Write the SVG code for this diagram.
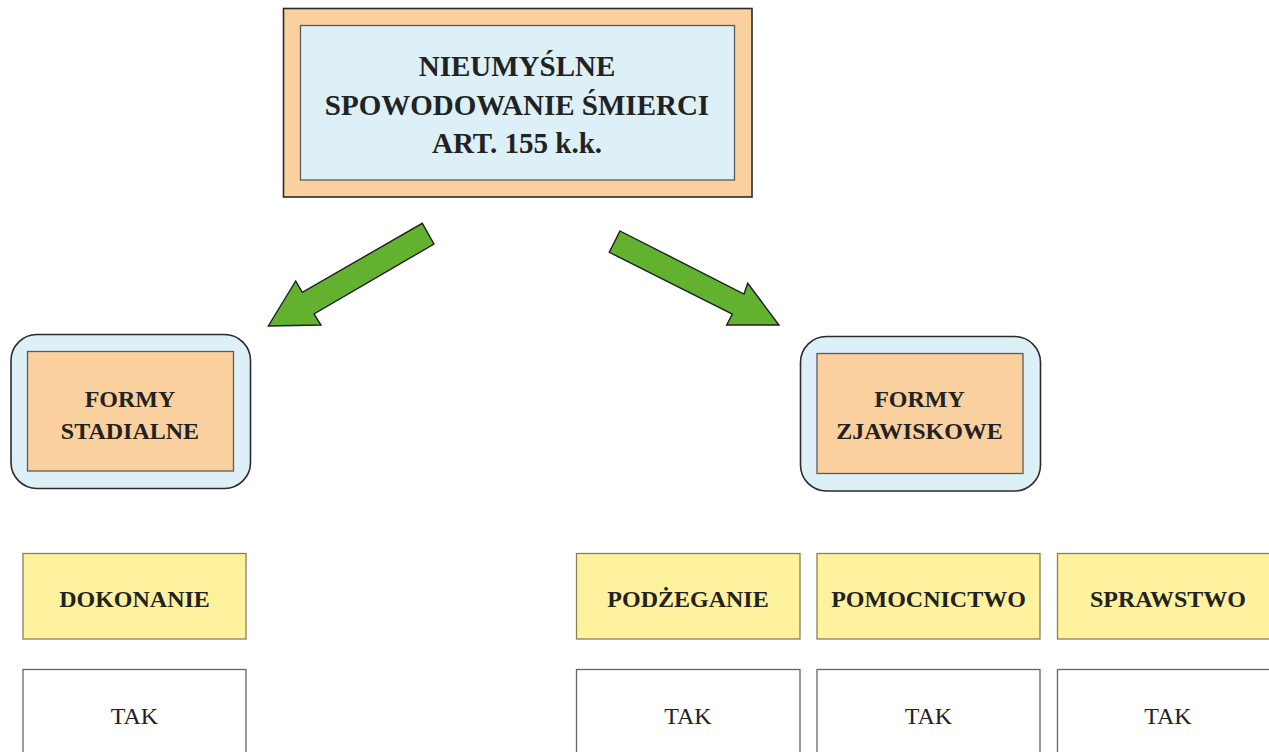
<svg xmlns="http://www.w3.org/2000/svg" width="1269" height="752" viewBox="0 0 1269 752">
<style>
.t{font-family:"Liberation Serif","Times New Roman",serif;fill:#222;text-anchor:middle}
.b{font-weight:bold}
.peach{fill:#FAD09E}
.blue{fill:#DDF0F8}
.outer{stroke:#2b2b2b;stroke-width:1.6}
.inner{stroke:#5a5a5a;stroke-width:1.3}
.yel{fill:#FFF29E;stroke:#8a8050;stroke-width:1.3}
.wht{fill:#fff;stroke:#666;stroke-width:1.3}
.arrow{fill:#62B22F;stroke:#1e1e1e;stroke-width:1.4;stroke-linejoin:miter}
</style>
<rect width="1269" height="752" fill="#fff"/>
<g id="main">
<rect class="peach outer" x="283.5" y="8.5" width="468.5" height="188.5"/>
<rect class="blue inner" x="300.5" y="25.5" width="434" height="154.5"/>
<text class="t b" x="517" y="76" font-size="29">NIEUMYŚLNE</text>
<text class="t b" x="517" y="115" font-size="29">SPOWODOWANIE ŚMIERCI</text>
<text class="t b" x="517" y="153" font-size="29">ART. 155 k.k.</text>
</g>
<g id="connectors">
<polygon class="arrow" points="422.3,223.3 434,244 314,314 321,325 268.3,326 295.7,281 302.3,292.3"/>
<polygon class="arrow" points="620,231 744,294 747.7,283.3 779,325 726.7,325 732.3,314 609.3,252.3"/>
</g>
<g id="stadialne">
<rect class="blue outer" x="11" y="334.5" width="239.5" height="154" rx="26"/>
<rect class="peach inner" x="27.5" y="351.5" width="206" height="119.5"/>
<text class="t b" x="130" y="407" font-size="24">FORMY</text>
<text class="t b" x="130" y="439" font-size="24">STADIALNE</text>
</g>
<g id="zjawiskowe">
<rect class="blue outer" x="800.5" y="336.5" width="240" height="154.5" rx="26"/>
<rect class="peach inner" x="817" y="353.5" width="206" height="120"/>
<text class="t b" x="919.5" y="407" font-size="24">FORMY</text>
<text class="t b" x="919.5" y="439" font-size="24">ZJAWISKOWE</text>
</g>
<g id="dokonanie">
<rect class="yel" x="23" y="553.5" width="223" height="85.5"/>
<text class="t b" x="134.5" y="607" font-size="24">DOKONANIE</text>
</g>
<g id="podzeganie">
<rect class="yel" x="576.5" y="553.5" width="223.5" height="85.5"/>
<text class="t b" x="688" y="607" font-size="24">PODŻEGANIE</text>
</g>
<g id="pomocnictwo">
<rect class="yel" x="817" y="553.5" width="223" height="85.5"/>
<text class="t b" x="928.5" y="607" font-size="24">POMOCNICTWO</text>
</g>
<g id="sprawstwo">
<rect class="yel" x="1057.5" y="553.5" width="222" height="85.5"/>
<text class="t b" x="1168" y="607" font-size="24">SPRAWSTWO</text>
</g>
<g id="tak1">
<rect class="wht" x="23" y="669.5" width="223" height="100"/>
<text class="t" x="134.5" y="724" font-size="24">TAK</text>
</g>
<g id="tak2">
<rect class="wht" x="576.5" y="669.5" width="223.5" height="100"/>
<text class="t" x="688" y="724" font-size="24">TAK</text>
</g>
<g id="tak3">
<rect class="wht" x="817" y="669.5" width="223" height="100"/>
<text class="t" x="928.5" y="724" font-size="24">TAK</text>
</g>
<g id="tak4">
<rect class="wht" x="1057.5" y="669.5" width="222" height="100"/>
<text class="t" x="1168" y="724" font-size="24">TAK</text>
</g>
</svg>
